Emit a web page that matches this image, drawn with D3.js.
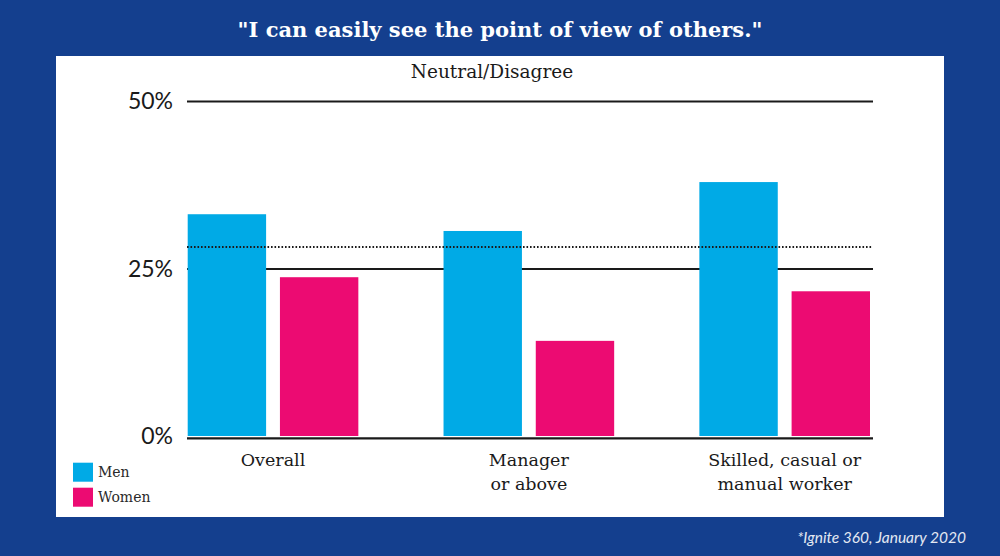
<!DOCTYPE html>
<html>
<head>
<meta charset="utf-8">
<script src="https://cdn.jsdelivr.net/npm/d3@7"></script>
<style>
  html, body { margin: 0; padding: 0; background: #143f8e; }
  svg { display: block; }
</style>
</head>
<body>
<svg id="chart" width="1000" height="556"></svg>
<script>
const categories = [["Overall"], ["Manager", "or above"], ["Skilled, casual or", "manual worker"]];
const categoryKeys = ["Overall", "Manager or above", "Skilled, casual or manual worker"];
const seriesNames = ["Men", "Women"];
const menValues = [33.1, 30.6, 37.9];
const womenValues = [23.7, 14.2, 21.6];
const averageValue = 28.2;
const tickValues = [0, 25, 50];
const tickLabels = ["0%", "25%", "50%"];
const colors = ["#00aae6", "#ec0b72"];

const svg = d3.select("#chart");
const W = 1000, H = 556;

svg.append("rect").attr("width", W).attr("height", H).attr("fill", "#143f8e");
svg.append("rect").attr("x", 56).attr("y", 56).attr("width", 888).attr("height", 461).attr("fill", "#ffffff");

svg.append("text").attr("x", 500).attr("y", 37).attr("text-anchor", "middle")
  .attr("fill", "#ffffff").attr("font-family", "DejaVu Serif").attr("font-weight", "bold")
  .attr("font-size", 21).text("\"I can easily see the point of view of others.\"");

svg.append("text").attr("x", 492).attr("y", 78).attr("text-anchor", "middle")
  .attr("fill", "#1a1a1a").attr("font-family", "DejaVu Serif").attr("font-size", 18.5)
  .text("Neutral/Disagree");

const y = d3.scaleLinear().domain([0, 50]).range([436, 101]);
const x0 = d3.scaleBand().domain(categoryKeys).range([187.7, 870]).paddingInner(0.333).paddingOuter(0);
const x1 = d3.scaleBand().domain(seriesNames).range([0, x0.bandwidth()]).paddingInner(0.15);

// gridlines
const grid = svg.append("g");
grid.selectAll("line").data(tickValues).enter().append("line")
  .attr("x1", 187).attr("x2", 873)
  .attr("y1", d => d === 0 ? y(d) + 2.3 : y(d) + 0.5)
  .attr("y2", d => d === 0 ? y(d) + 2.3 : y(d) + 0.5)
  .attr("stroke", "#1a1a1a").attr("stroke-width", 2.2);

// tick labels
svg.append("g").selectAll("text").data(tickValues).enter().append("text")
  .attr("x", 173).attr("y", d => y(d) + 8)
  .attr("text-anchor", "end").attr("fill", "#1a1a1a")
  .attr("font-family", "Lato").attr("font-size", 23)
  .text((d, i) => tickLabels[i]);

// bars
const rows = categoryKeys.map((k, i) => ({ key: k, values: [menValues[i], womenValues[i]] }));
const groups = svg.append("g").selectAll("g").data(rows).enter().append("g")
  .attr("transform", d => `translate(${x0(d.key)},0)`);
groups.selectAll("rect").data(d => d.values.map((v, j) => ({ s: seriesNames[j], v, j }))).enter()
  .append("rect")
  .attr("x", d => x1(d.s)).attr("width", x1.bandwidth())
  .attr("y", d => y(d.v)).attr("height", d => y(0) - y(d.v))
  .attr("fill", d => colors[d.j]);

// dotted average line
svg.append("line").attr("x1", 187).attr("x2", 873)
  .attr("y1", y(averageValue)).attr("y2", y(averageValue))
  .attr("stroke", "#1a1a1a").attr("stroke-width", 2).attr("stroke-dasharray", "1.6,1.9");

// category labels
const catG = svg.append("g").selectAll("text").data(categories).enter().append("text")
  .attr("text-anchor", "middle").attr("fill", "#1a1a1a")
  .attr("font-family", "DejaVu Serif").attr("font-size", 17.5)
  .attr("transform", (d, i) => `translate(${x0(categoryKeys[i]) + x0.bandwidth() / 2},466)`);
catG.selectAll("tspan").data(d => d).enter().append("tspan")
  .attr("x", 0).attr("dy", (d, i) => i === 0 ? 0 : 24).text(d => d);

// legend
const legend = svg.append("g").selectAll("g").data(seriesNames).enter().append("g")
  .attr("transform", (d, i) => `translate(73,${462.7 + i * 25})`);
legend.append("rect").attr("width", 20).attr("height", 19).attr("fill", (d, i) => colors[i]);
legend.append("text").attr("x", 25).attr("y", 14).attr("fill", "#2a2a2a")
  .attr("font-family", "DejaVu Serif").attr("font-size", 14).text(d => d);

// footnote
svg.append("text").attr("x", 966).attr("y", 543).attr("text-anchor", "end")
  .attr("fill", "#e3e8f2").attr("font-family", "Lato").attr("font-style", "italic")
  .attr("font-size", 15.5).text("*Ignite 360, January 2020");
</script>
</body>
</html>
